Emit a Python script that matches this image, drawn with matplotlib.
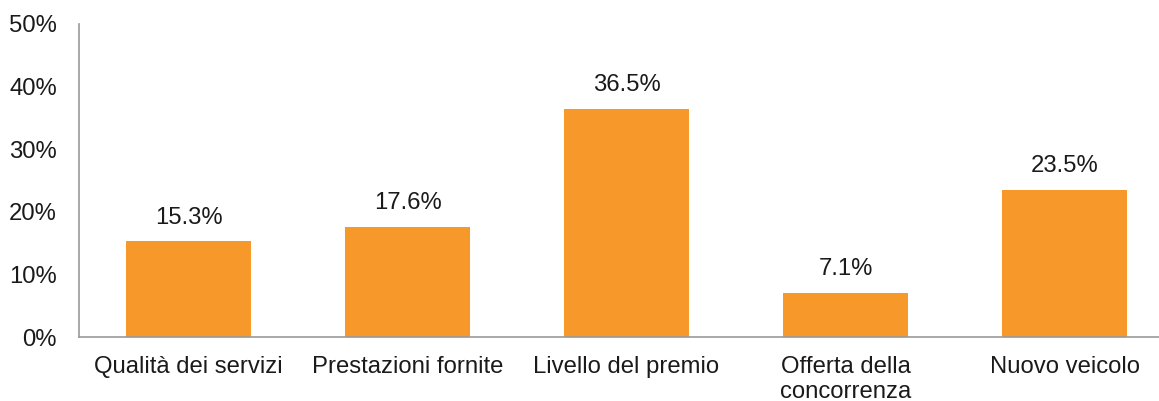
import matplotlib
matplotlib.use("Agg")
import matplotlib.pyplot as plt
from matplotlib.ticker import FuncFormatter

categories = ["Qualità dei servizi", "Prestazioni fornite", "Livello del premio",
              "Offerta della\nconcorrenza", "Nuovo veicolo"]
values = [15.3, 17.6, 36.5, 7.1, 23.5]
yticks = [0, 10, 20, 30, 40, 50]

plt.rcParams["font.family"] = ["Liberation Sans", "DejaVu Sans"]
FS = 17.2

fig = plt.figure(figsize=(11.59, 4.01), dpi=100)
ax = fig.add_axes([79 / 1159, 64 / 401, 1095 / 1159, 313 / 401])

x = list(range(len(categories)))
bars = ax.bar(x, values, width=0.57, color="#F7982B", zorder=2)

for xi, v in zip(x, values):
    ax.annotate(f"{v:.1f}%", (xi, v), xytext=(0, 17), textcoords="offset points",
                ha="center", va="center", fontsize=FS, color="#1a1a1a")

ax.set_xlim(-0.5, len(categories) - 0.5)
ax.set_ylim(0, 50)
ax.set_yticks(yticks)
ax.yaxis.set_major_formatter(FuncFormatter(lambda v, p: f"{v:.0f}%"))
ax.set_xticks(x)
ax.set_xticklabels(categories, fontsize=FS, color="#1a1a1a", linespacing=1.15)
ax.tick_params(axis="y", labelsize=FS, labelcolor="#1a1a1a", length=0, pad=16)
ax.tick_params(axis="x", length=0, pad=14)

for s in ["top", "right"]:
    ax.spines[s].set_visible(False)
for s in ["left", "bottom"]:
    ax.spines[s].set_color("#999999")
    ax.spines[s].set_linewidth(1.2)

fig.savefig("out.png", dpi=100)
